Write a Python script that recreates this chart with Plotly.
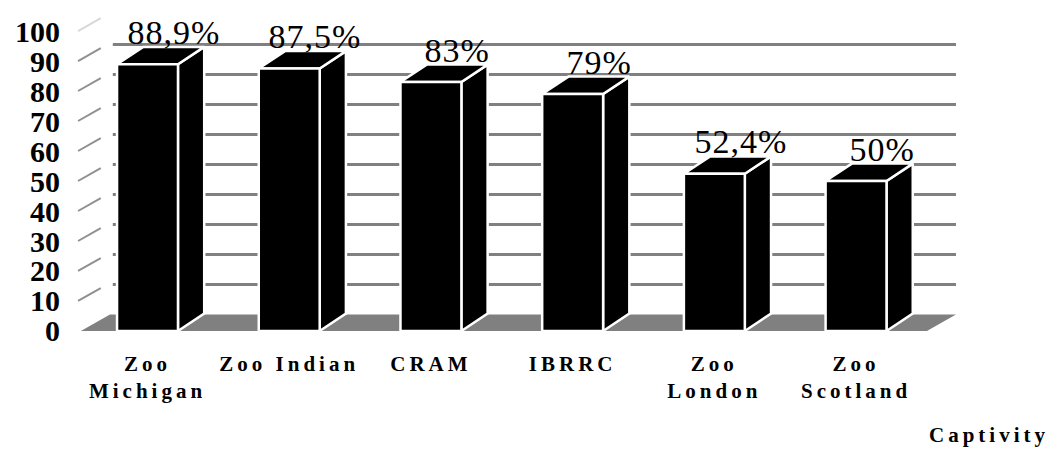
import plotly.graph_objects as go

# ---------------- data ----------------
categories = ["Zoo<br>Michigan", "Zoo Indian", "CRAM", "IBRRC", "Zoo<br>London", "Zoo<br>Scotland"]
values = [88.9, 87.5, 83, 79, 52.4, 50]
value_labels = ["88,9%", "87,5%", "83%", "79%", "52,4%", "50%"]
y_ticks = [0, 10, 20, 30, 40, 50, 60, 70, 80, 90, 100]
x_title = "Captivity"

SERIF = "Liberation Serif"

# ---------------- 3D geometry (axis units) ----------------
BAR_W = 0.43      # front face width (category units)
BDX, BDY = 0.185, 5.8   # bar depth offset
WDX, WDY = 0.205, 5.5   # wall depth offset
X_LEFT, X_RIGHT = -0.47, 5.50
GRID = "#808080"

xpos = list(range(len(categories)))
fig = go.Figure()

# floor
fig.add_trace(go.Scatter(
    x=[X_LEFT, X_RIGHT, X_RIGHT + WDX, X_LEFT + WDX, X_LEFT],
    y=[0, 0, WDY, WDY, 0], mode="lines", fill="toself",
    fillcolor=GRID, line=dict(width=0), hoverinfo="skip", showlegend=False))

# back wall gridlines
gx, gy = [], []
for v in y_ticks[1:-1]:
    gx += [X_LEFT + WDX + 0.02, X_RIGHT + WDX, None]
    gy += [v + WDY, v + WDY, None]
fig.add_trace(go.Scatter(x=gx, y=gy, mode="lines", line=dict(color=GRID, width=3),
                         hoverinfo="skip", showlegend=False))

# left wall lines
lx, ly = [], []
for v in y_ticks[1:-1]:
    lx += [X_LEFT - 0.02, X_LEFT - 0.02 + 0.78 * WDX, None]
    ly += [v, v + 0.78 * WDY, None]
fig.add_trace(go.Scatter(x=lx, y=ly, mode="lines", line=dict(color="#909090", width=2),
                         hoverinfo="skip", showlegend=False))
fig.add_trace(go.Scatter(x=[X_LEFT - 0.02, X_LEFT - 0.02 + 0.78 * WDX],
                         y=[y_ticks[-1], y_ticks[-1] + 0.78 * WDY], mode="lines",
                         line=dict(color="#d8d8d8", width=2), hoverinfo="skip", showlegend=False))

# bars: side, top, front
sx, sy, tx, ty, fx, fy = [], [], [], [], [], []
for c, v in zip(xpos, values):
    l, r = c - BAR_W / 2, c + BAR_W / 2
    sx += [r, r + BDX, r + BDX, r, r, None]
    sy += [0, BDY, v + BDY, v, 0, None]
    tx += [l, l + BDX, r + BDX, r, l, None]
    ty += [v, v + BDY, v + BDY, v, v, None]
    fx += [l, r, r, l, l, None]
    fy += [0, 0, v, v, 0, None]
for X, Y in ((sx, sy), (tx, ty), (fx, fy)):
    fig.add_trace(go.Scatter(x=X, y=Y, mode="lines", fill="toself", fillcolor="black",
                             line=dict(color="white", width=2.5), hoverinfo="skip",
                             showlegend=False))

# value labels
for c, v, t in zip(xpos, values, value_labels):
    fig.add_annotation(x=c + BDX, y=v + BDY, text=t, showarrow=False,
                       xanchor="center", yanchor="bottom", yshift=-6,
                       font=dict(family=SERIF, size=34, color="black"))

fig.add_annotation(x=1.071, y=-0.265, xref="paper", yref="paper", text="<b>" + x_title + "</b>",
                   showarrow=False, xanchor="right", yanchor="middle",
                   font=dict(family=SERIF, size=21, color="black"))

fig.update_layout(
    width=1059, height=450,
    margin=dict(l=70, r=89, t=5, b=105),
    paper_bgcolor="white", plot_bgcolor="white",
    font=dict(family=SERIF, color="black"),
    xaxis=dict(range=[-0.547, 5.804], tickvals=xpos,
               ticktext=["<b>" + c + "</b>" for c in categories],
               showgrid=False, zeroline=False, showline=False, ticks="",
               ticklabelstandoff=4,
               tickfont=dict(family=SERIF, size=21, color="black")),
    yaxis=dict(range=[-4.67, 108.67], tickvals=y_ticks,
               ticktext=["<b>%d</b>" % t for t in y_ticks],
               showgrid=False, zeroline=False,
               showline=False, ticks="", ticklabelstandoff=9,
               tickfont=dict(family=SERIF, size=30, color="black")),
)

css = ("var s=document.createElement('style');"
       "s.textContent='.xtick text{letter-spacing:4px} "
       "g.annotation text{letter-spacing:1px} "
       "g.annotation[data-index=\"6\"] text{letter-spacing:4px}';"
       "document.head.appendChild(s);")
fig.write_html("out.html", post_script=css)
